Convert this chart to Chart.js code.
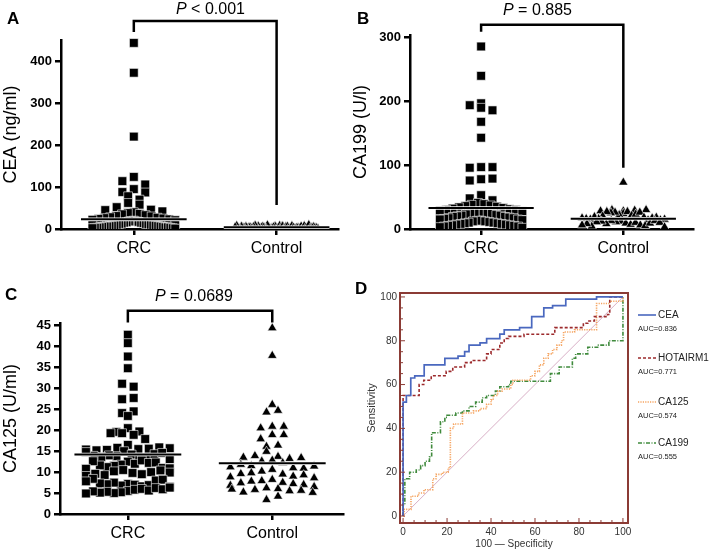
<!DOCTYPE html>
<html>
<head>
<meta charset="utf-8">
<script src="https://cdn.jsdelivr.net/npm/chart.js@4.4.1/dist/chart.umd.min.js"></script>
<style>
  body { margin: 0; background: #fff; }
  #fig { position: relative; width: 709px; height: 552px; overflow: hidden; font-family: "Liberation Sans", Arial, sans-serif; }
  #fig canvas { position: absolute; }
  .t { position: absolute; line-height: 1; white-space: nowrap; color: #000; }
  .lbl { font-weight: bold; font-size: 17px; }
  .pv { font-size: 16px; }
  .lg { font-size: 10px; color: #222; }
  .auc { font-size: 7.5px; color: #222; }
</style>
</head>
<body>
<div id="fig">
  <canvas id="cA" width="350" height="276" style="left:0;top:0"></canvas>
  <canvas id="cB" width="359" height="276" style="left:350px;top:0"></canvas>
  <canvas id="cC" width="350" height="276" style="left:0;top:276px"></canvas>
  <canvas id="cD" width="290" height="276" style="left:350px;top:276px"></canvas>
  <div class="t lbl" style="left:7px;top:10px">A</div>
  <div class="t lbl" style="left:357px;top:10px">B</div>
  <div class="t lbl" style="left:5px;top:286px">C</div>
  <div class="t lbl" style="left:355px;top:280px">D</div>
</div>
<script>
/* groups on the x axis of the dot plots */
const groups = ['CRC', 'Control'];

/* A: CEA (ng/ml) */
const ceaCRC = [443, 372, 220, 124, 114, 106, 95, 88, 87, 78, 70, 62, 58, 52, 46, 45, 42, 40, 38, 36,
  35, 33, 31, 30, 28, 27, 26, 25, 24, 23, 22, 21, 20, 19, 18, 18, 17, 16, 15, 15, 14, 13, 12, 12,
  11, 10, 10, 9, 9, 8, 8, 7, 7, 6, 6, 6, 5, 5, 4, 4, 4, 3, 3, 3, 2, 2, 1];
const ceaControl = [3.2, 6.5, 1.8, 4.4, 8.1, 2.5, 5.3, 1.2, 7.0, 3.8, 2.1, 9.2, 4.9, 1.5, 6.1, 3.0,
  2.7, 5.8, 1.9, 4.1, 7.6, 2.3, 3.5, 6.8, 1.4, 4.6, 2.9, 8.6, 3.3, 5.1, 1.7, 2.6, 6.3, 3.9,
  1.1, 4.3, 7.3, 2.2, 3.6, 5.5, 1.6, 2.8, 9.8, 4.0, 2.4, 6.0, 3.1, 1.3, 5.0, 2.0, 3.4, 7.9, 2.6, 4.7, 1.0];
const ceaCentre = [23, 4];
const ceaTicks = [0, 100, 200, 300, 400];

/* B: CA199 (U/l) */
const ca199CRC = [286, 240, 197, 190, 194, 186, 168, 143, 97, 96, 97, 78, 76, 79, 53, 48, 45,
  41, 39, 38, 37, 36, 35, 34, 33, 32, 31, 30, 30, 29, 28, 27, 27, 26, 25, 25, 24, 23, 22, 21, 21,
  20, 19, 19, 18, 17, 17, 16, 15, 15, 14, 13, 13, 12, 12, 11, 10, 10, 9, 9, 8, 8, 7, 7, 6, 6,
  5, 5, 4, 4, 3, 2];
const ca199Control = [73, 28, 24, 30, 22, 27, 26, 29, 21, 25, 28, 23, 27, 30, 26, 20, 18, 12, 16,
  9, 14, 19, 11, 17, 7, 15, 13, 10, 8, 18, 6, 16, 12, 5, 14, 11, 9, 17, 4, 13, 8, 15, 10, 6, 3];
const ca199Centre = [33, 16];
const ca199Ticks = [0, 100, 200, 300];

/* C: CA125 (U/ml) */
const ca125CRC = [42.8, 40.8, 37.6, 34.8, 31.1, 30.4, 27.4, 27.7, 24.1, 23.4, 24.5, 20.5, 19.6, 19.3,
  18.9, 19.3, 19.7, 17.9, 16.5,
  15.8, 15.5, 15.3, 15.6, 15.2, 15.9, 15.4, 15.0, 15.7,
  14.2, 13.8, 13.5, 14.0, 13.3, 13.6, 14.3, 13.9, 14.6, 14.8, 13.1,
  12.5, 11.8, 12.0, 11.5, 12.8, 11.2, 12.2, 11.6, 12.3, 12.6, 11.0,
  10.5, 9.8, 10.2, 9.5, 10.8, 9.3, 10.0, 9.6, 10.4, 10.9, 9.1, 9.9,
  7.2, 6.8, 7.0, 7.5, 6.6, 7.1, 6.9, 7.3, 8.0, 8.4, 8.2, 7.8, 6.5,
  5.5, 5.2, 5.8, 5.0, 6.0, 5.3, 5.6, 5.1, 6.2, 5.4, 5.9, 4.9, 6.3];
const ca125Control = [44.4, 37.8, 26.1, 24.3, 24.7, 20.9, 20.5, 20.9, 18.9, 17.9, 18.9, 16.1, 16.4,
  14.9, 13.7, 13.9, 13.2, 13.5, 12.8, 13.4, 12.6, 12.2, 11.5, 11.0, 11.8, 10.9, 11.2, 10.6, 11.4,
  10.2, 9.5, 9.8, 9.0, 9.6, 9.3, 8.8, 8.6, 8.2, 7.9, 7.5, 7.8, 7.2, 7.4, 7.0, 6.8, 6.5, 6.2, 6.0,
  5.8, 5.5, 5.2, 5.6, 5.9, 5.1, 3.4, 4.2];
const ca125Centre = [14.2, 12.1];
const ca125Ticks = [0, 5, 10, 15, 20, 25, 30, 35, 40, 45];

const pLabels = ['< 0.001', '= 0.885', '= 0.0689'];

/* D: ROC curves, x = 100 - specificity, y = sensitivity */
const rocNames = ['CEA', 'HOTAIRM1', 'CA125', 'CA199'];
const rocAUC = ['0.836', '0.771', '0.574', '0.555'];
const ceaRocX = [0, 0, 1.5, 3.5, 5.3, 9.6, 19, 25, 28, 30, 35, 38, 44, 46, 53, 58.5, 64, 68, 74, 88, 100];
const ceaRocY = [0, 52, 55, 63, 64, 69, 72, 73, 75, 78, 79, 81, 83, 85, 86, 91, 95, 96, 99, 100, 100];
const hotRocX = [0, 0, 7.3, 9.4, 12.8, 19.6, 22.6, 28, 31, 38, 40, 44, 46, 48, 55, 69, 82, 84, 87, 93, 94, 100];
const hotRocY = [0, 55, 60, 62, 64, 66, 68, 70, 71, 74, 76, 79, 81, 82, 83, 86, 88, 89, 91, 92, 100, 100];
const ca125RocX = [0, 0.5, 3.6, 7, 9.5, 13.5, 15, 18, 20.5, 21.5, 23, 27, 32, 35, 38, 40, 41, 43, 45,
  49, 50, 58, 60, 62, 64, 66, 68, 70, 72, 73, 78, 88, 94, 100];
const ca125RocY = [0, 3, 9, 10.5, 12, 17, 19, 20, 22, 40, 42, 47, 48, 49, 51, 53, 55, 57, 58,
  60, 62, 64, 66, 69, 72, 74, 76, 78, 80, 84, 85, 97, 98, 100];
const ca199RocX = [0, 0, 0.8, 3, 6, 8, 10, 12, 13, 17, 19, 20, 24, 27, 30, 33, 36, 38, 42, 44, 48, 49,
  67, 71, 77, 78.5, 84, 88.5, 93.6, 100];
const ca199RocY = [0, 5, 17, 20, 21, 23, 25, 27, 38, 43, 45, 46, 47, 48, 50, 52, 54, 55, 57, 59, 60, 61.5,
  65, 68, 72, 74, 77, 78, 80, 100];
const rocTicks = [0, 20, 40, 60, 80, 100];

Chart.defaults.font.family = '"Liberation Sans", Arial, sans-serif';

// stack each group sideways row by row, filling from the middle out like a dot plot
function swarm(values, centre, bin){
  const rows = new Map();
  values.forEach(v=>{
    const k = Math.floor(v/bin);
    if(!rows.has(k)) rows.set(k, []);
    rows.get(k).push(v);
  });
  const pts = [];
  rows.forEach(list=>{
    const n = list.length;
    const s = n>1 ? Math.min(0.08, 0.58/(n-1)) : 0;
    const slots = list.map((v,i)=>i-(n-1)/2).sort((a,b)=>Math.abs(a)-Math.abs(b) || a-b);
    list.forEach((v,i)=>pts.push({x: centre + slots[i]*s, y: v}));
  });
  return pts;
}

const bracketPlugin = {
  id: 'bracket',
  afterDraw(chart, args, o){
    if(!o.ends) return;
    const {ctx, scales:{x, y}} = chart;
    const x1 = x.getPixelForValue(1), x2 = x.getPixelForValue(2);
    const yt = y.getPixelForValue(o.ends[0]);
    ctx.save();
    ctx.strokeStyle = '#000';
    ctx.lineWidth = 2.5;
    ctx.beginPath();
    ctx.moveTo(x1, y.getPixelForValue(o.ends[1]));
    ctx.lineTo(x1, yt);
    ctx.lineTo(x2, yt);
    ctx.lineTo(x2, y.getPixelForValue(o.ends[2]));
    ctx.stroke();
    ctx.restore();
  }
};

function dotPanel(id, p){
  const sets = [
    {data: swarm(p.crc, 1, p.bin), pointStyle:'rect', pointRadius:6.2},
    {data: swarm(p.ctrl, 2, p.bin), pointStyle:'triangle', pointRadius:5.4}
  ].map(d=>Object.assign(d, {
    backgroundColor:'#000', borderColor:'#fff', borderWidth:0.6, order:2,
    clip:{left:false, top:false, right:false, bottom:0}
  }));
  // centre line of each group, drawn over the symbols with a thin white halo
  p.centre.forEach((m,i)=>{
    const seg = [{x:i+1-0.37, y:m}, {x:i+1+0.37, y:m}];
    sets.push({data:seg, showLine:true, borderColor:'#fff', borderWidth:3.6, pointRadius:0, order:1});
    sets.push({data:seg, showLine:true, borderColor:'#000', borderWidth:2, pointRadius:0, order:0});
  });
  new Chart(document.getElementById(id), {
    type:'scatter',
    data:{datasets:sets},
    options:{
      responsive:false, animation:false, events:[],
      layout:{padding:p.pad},
      plugins:{legend:{display:false}, tooltip:{enabled:false}, bracket:{ends:p.bracket}},
      scales:{
        x:{
          type:'linear', min:p.xMin, max:p.xMax,
          afterBuildTicks: s=>{ s.ticks = groups.map((g,i)=>({value:i+1})); },
          afterFit: s=>{ s.height = 30; },
          ticks:{callback: v=>groups[v-1], font:{size:16}, color:'#000', padding:4, maxRotation:0, autoSkip:false},
          grid:{drawOnChartArea:false, color:'#000', lineWidth:2.5, tickLength:6},
          border:{color:'#000', width:2.5}
        },
        y:{
          min:0, max:p.yMax,
          afterBuildTicks: s=>{ s.ticks = p.ticks.map(v=>({value:v})); },
          afterFit: s=>{ s.width = p.yw; },
          ticks:{font:{size:13, weight:'bold'}, color:'#000', padding:3},
          grid:{drawOnChartArea:false, color:'#000', lineWidth:2.5, tickLength:6},
          border:{color:'#000', width:2.5},
          title:{display:true, text:p.title, font:{size:18}, color:'#000', padding:0}
        }
      }
    },
    plugins:[bracketPlugin]
  });
}

dotPanel('cA', {crc:ceaCRC, ctrl:ceaControl, centre:ceaCentre, ticks:ceaTicks, title:'CEA (ng/ml)',
  bin:21, yMax:450, xMin:0.49, xMax:2.43, yw:61, pad:{top:40, right:12, bottom:17, left:0},
  bracket:[495, 469, 57]});
dotPanel('cB', {crc:ca199CRC, ctrl:ca199Control, centre:ca199Centre, ticks:ca199Ticks, title:'CA199 (U/l)',
  bin:14, yMax:304, xMin:0.5, xMax:2.49, yw:60, pad:{top:35, right:16, bottom:17, left:0},
  bracket:[320, 309, 96]});
dotPanel('cC', {crc:ca125CRC, ctrl:ca125Control, centre:ca125Centre, ticks:ca125Ticks, title:'CA125 (U/ml)',
  bin:2.15, yMax:45.6, xMin:0.53, xMax:2.49, yw:60, pad:{top:47, right:7, bottom:8, left:0},
  bracket:[48.5, 45.7, 45.7]});

/* P values above the brackets */
[[176, 1], [503, 2], [155, 288]].forEach((pos, i)=>{
  const d = document.createElement('div');
  d.className = 't pv';
  d.style.left = pos[0] + 'px';
  d.style.top = pos[1] + 'px';
  d.innerHTML = '<i>P</i> ' + pLabels[i].replace('<', '&lt;');
  document.getElementById('fig').appendChild(d);
});

/* ROC panel */
const rocColors = ['#4a68bf', '#9c2a2c', '#f5a460', '#3f8a3c'];
const rocDash = [[], [3, 2], [1.2, 1.2], [4, 1.5, 1, 1.5]];
const rocData = [[ceaRocX, ceaRocY], [hotRocX, hotRocY], [ca125RocX, ca125RocY], [ca199RocX, ca199RocY]];
const frameColor = '#8b3b35';

const framePlugin = {
  id: 'frame',
  afterDraw(chart){
    const {ctx, chartArea:a, scales:{x, y}} = chart;
    ctx.save();
    ctx.strokeStyle = frameColor;
    ctx.lineWidth = 1;
    for(let v=0; v<=100; v+=5){
      const len = rocTicks.includes(v) ? 5 : 3;
      const px = x.getPixelForValue(v), py = y.getPixelForValue(v);
      ctx.beginPath();
      ctx.moveTo(px, a.bottom); ctx.lineTo(px, a.bottom - len);
      ctx.moveTo(a.left, py); ctx.lineTo(a.left + len, py);
      ctx.stroke();
    }
    ctx.lineWidth = 2;
    ctx.strokeRect(a.left, a.top, a.right - a.left, a.bottom - a.top);
    ctx.restore();
  }
};

const rocSets = rocData.map((d,i)=>({
  label: rocNames[i],
  data: d[0].map((x,j)=>({x, y:d[1][j]})),
  showLine:true, stepped:'before', pointRadius:0,
  borderColor:rocColors[i], borderDash:rocDash[i], borderWidth:i===0 ? 1.7 : 1.6,
  order:i
}));
rocSets.push({label:'ref', data:[{x:0, y:0}, {x:100, y:100}], showLine:true, pointRadius:0,
  borderColor:'#d8afc6', borderWidth:1, order:9});

new Chart(document.getElementById('cD'), {
  type:'scatter',
  data:{datasets:rocSets},
  options:{
    responsive:false, animation:false, events:[],
    layout:{padding:{top:17, right:12, bottom:0, left:0}},
    plugins:{legend:{display:false}, tooltip:{enabled:false}},
    scales:{
      x:{
        type:'linear', min:-1.4, max:102.3,
        afterBuildTicks: s=>{ s.ticks = rocTicks.map(v=>({value:v})); },
        afterFit: s=>{ s.height = 29; },
        ticks:{font:{size:10}, color:'#333', padding:3, maxRotation:0, autoSkip:false},
        grid:{display:false, drawTicks:false},
        border:{display:false},
        title:{display:true, text:'100 \u2014 Specificity', font:{size:10}, color:'#333', padding:{top:0, bottom:2}}
      },
      y:{
        min:-3.2, max:101.8,
        afterBuildTicks: s=>{ s.ticks = rocTicks.map(v=>({value:v})); },
        afterFit: s=>{ s.width = 50; },
        ticks:{font:{size:10}, color:'#333', padding:3},
        grid:{display:false, drawTicks:false},
        border:{display:false},
        title:{display:true, text:'Sensitivity', font:{size:11}, color:'#333', padding:{top:15, bottom:0}}
      }
    }
  },
  plugins:[framePlugin]
});

/* ROC legend with the AUC under each name */
const legendY = [315, 358, 402, 443];
rocNames.forEach((name, i)=>{
  const fig = document.getElementById('fig');
  const svg = document.createElementNS('http://www.w3.org/2000/svg', 'svg');
  svg.setAttribute('width', '20'); svg.setAttribute('height', '6');
  svg.style.position = 'absolute';
  svg.style.left = '637px'; svg.style.top = (legendY[i] - 3) + 'px';
  const ln = document.createElementNS('http://www.w3.org/2000/svg', 'line');
  ln.setAttribute('x1', '1'); ln.setAttribute('x2', '19');
  ln.setAttribute('y1', '3'); ln.setAttribute('y2', '3');
  ln.setAttribute('stroke', rocColors[i]); ln.setAttribute('stroke-width', '1.6');
  if(rocDash[i].length) ln.setAttribute('stroke-dasharray', rocDash[i].join(' '));
  svg.appendChild(ln);
  fig.appendChild(svg);
  const t = document.createElement('div');
  t.className = 't lg';
  t.style.left = '658px'; t.style.top = (legendY[i] - 5) + 'px';
  t.textContent = name;
  fig.appendChild(t);
  const a = document.createElement('div');
  a.className = 't auc';
  a.style.left = '638px'; a.style.top = (legendY[i] + 10) + 'px';
  a.textContent = 'AUC=' + rocAUC[i];
  fig.appendChild(a);
});
</script>
</body>
</html>
